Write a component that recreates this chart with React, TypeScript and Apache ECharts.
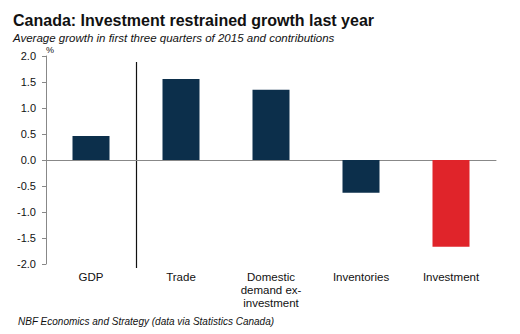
import React, { useEffect, useRef } from "react";
import * as echarts from "echarts";

const categories = ["GDP", "Trade", "Domestic\ndemand ex-\ninvestment", "Inventories", "Investment"];
const values = [0.46, 1.56, 1.35, -0.63, -1.67];
const barColors = ["#0c2f4b", "#0c2f4b", "#0c2f4b", "#0c2f4b", "#e0242a"];
const yTicks = { min: -2, max: 2, interval: 0.5 };

export default function App() {
  const ref = useRef<HTMLDivElement>(null);
  useEffect(() => {
    const chart = echarts.init(ref.current!, undefined, { renderer: "svg" });
    const font = "Liberation Sans, Arial, sans-serif";
    chart.setOption({
      animation: false,
      backgroundColor: "#ffffff",
      title: [
        {
          text: "Canada: Investment restrained growth last year",
          left: 8,
          top: 7,
          textStyle: { fontFamily: font, fontSize: 16, fontWeight: "bold", color: "#111" },
        },
        {
          text: "Average growth in first three quarters of 2015 and contributions",
          left: 8,
          top: 27,
          textStyle: { fontFamily: font, fontSize: 11.5, fontStyle: "italic", fontWeight: "normal", color: "#111" },
        },
        {
          text: "NBF Economics and Strategy (data via Statistics Canada)",
          left: 13,
          top: 311,
          textStyle: { fontFamily: font, fontSize: 10, fontStyle: "italic", fontWeight: "normal", color: "#111" },
        },
      ],
      grid: { left: 46, right: 24, top: 56, bottom: 70 },
      xAxis: {
        type: "category",
        data: categories,
        position: "bottom",
        axisLine: { onZero: true, lineStyle: { color: "#888", width: 1 } },
        axisTick: { show: false },
        axisLabel: {
          interval: 0,
          margin: 6,
          fontFamily: font,
          fontSize: 11.5,
          color: "#111",
          lineHeight: 13,
        },
      },
      yAxis: {
        type: "value",
        min: yTicks.min,
        max: yTicks.max,
        interval: yTicks.interval,
        name: "%",
        nameLocation: "end",
        nameGap: 2,
        nameTextStyle: { fontFamily: font, fontSize: 9, color: "#111", align: "left" },
        splitLine: { show: false },
        axisLine: { show: true, lineStyle: { color: "#888" } },
        axisTick: { show: true, length: 4, lineStyle: { color: "#888" } },
        axisLabel: {
          fontFamily: font,
          fontSize: 11,
          color: "#111",
          margin: 10,
          formatter: (v: number) => v.toFixed(1),
        },
      },
      series: [
        {
          type: "bar",
          data: values.map((v, i) => ({ value: v, itemStyle: { color: barColors[i] } })),
          barWidth: 37,
        },
      ],
    });
    const top = chart.convertToPixel({ yAxisIndex: 0 }, yTicks.max);
    const bottom = chart.convertToPixel({ yAxisIndex: 0 }, yTicks.min);
    const x0 = chart.convertToPixel({ xAxisIndex: 0 }, 0);
    const x1 = chart.convertToPixel({ xAxisIndex: 0 }, 1);
    const sepX = Math.round((x0 + x1) / 2) + 0.5;
    chart.setOption({
      graphic: [
        {
          type: "line",
          shape: { x1: sepX, y1: top + 6, x2: sepX, y2: bottom + 4 },
          style: { stroke: "#111", lineWidth: 1.2 },
        },
      ],
    });
    return () => chart.dispose();
  }, []);
  return <div ref={ref} style={{ width: 520, height: 334, position: "absolute", left: 0, top: 0 }} />;
}
